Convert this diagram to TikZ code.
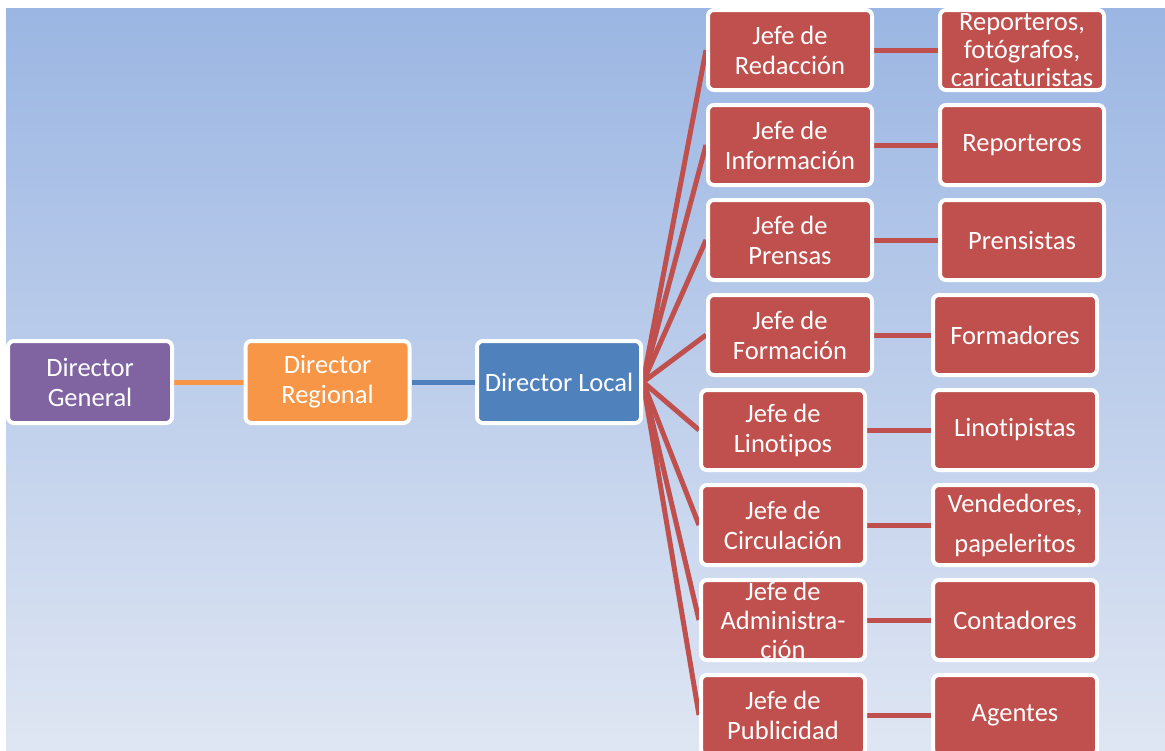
\documentclass[tikz,border=0pt]{standalone}
\usepackage{fontspec}
\setmainfont{Carlito}[Ligatures=NoCommon]
\pgfdeclarelayer{bg}
\pgfdeclarelayer{edges}
\pgfsetlayers{bg,edges,main}
\definecolor{dirpurple}{HTML}{8064A2}
\definecolor{dirorange}{HTML}{F79646}
\definecolor{dirblue}{HTML}{4F81BD}
\definecolor{jefered}{HTML}{C0504D}
\definecolor{skytop}{RGB}{155,182,227}
\definecolor{skybottom}{RGB}{223,230,243}
\tikzset{
	box/.style={draw=white, line width=4pt, rounded corners=6pt, text=white, align=center,
		minimum width=164pt, minimum height=80pt, inner sep=0pt,
		font=\fontsize{26.5}{30}\selectfont},
	dirbox/.style={box, minimum height=82pt},
	redbox/.style={box, fill=jefered},
	link/.style={line width=5pt}
}
\begin{document}
\begin{tikzpicture}[x=1pt, y=-1pt]
	\useasboundingbox (0,0) rectangle (1165,750);
	\clip (0,0) rectangle (1165,750);
	\begin{pgfonlayer}{bg}
		\fill[top color=skytop, bottom color=skybottom] (6,8) rectangle (1165,750);
	\end{pgfonlayer}
	% directores
	\node [dirbox, fill=dirpurple] (gen) at (90,382) {Director\\General};
	\node [dirbox, fill=dirorange] (reg) at (327.5,382) {Director\\Regional};
	\node [dirbox, fill=dirblue] (loc) at (559,382) {Director Local};
	% jefes
	\node [redbox] (j1) at (790,50) {Jefe de\\Redacción};
	\node [redbox] (j2) at (790,145) {Jefe de\\Información};
	\node [redbox] (j3) at (790,240) {Jefe de\\Prensas};
	\node [redbox] (j4) at (790,335) {Jefe de\\Formación};
	\node [redbox] (j5) at (783,430) {Jefe de\\Linotipos};
	\node [redbox] (j6) at (783,525) {Jefe de\\Circulación};
	\node [redbox, font=\fontsize{26.5}{29}\selectfont] (j7) at (783,620) {Jefe de\\Administra-\\ción};
	\node [redbox] (j8) at (783,715) {Jefe de\\Publicidad};
	% personal
	\node [redbox, font=\fontsize{26.5}{28}\selectfont] (p1) at (1022,50) {Reporteros,\\fotógrafos,\\caricaturistas};
	\node [redbox] (p2) at (1022,145) {Reporteros};
	\node [redbox] (p3) at (1022,240) {Prensistas};
	\node [redbox] (p4) at (1015,335) {Formadores};
	\node [redbox] (p5) at (1015,430) {Linotipistas};
	\node [redbox] (p6) at (1015,525) {Vendedores,\\[10pt]papeleritos};
	\node [redbox] (p7) at (1015,620) {Contadores};
	\node [redbox] (p8) at (1015,715) {Agentes};
	% conectores
	\begin{pgfonlayer}{edges}
		\draw [link, dirorange] (gen.east) -- (reg.west);
		\draw [link, dirblue] (reg.east) -- (loc.west);
		\foreach \i in {1,...,8} {
			\draw [link, jefered] (loc.east) -- (j\i.west);
			\draw [link, jefered] (j\i.east) -- (p\i.west);
		}
	\end{pgfonlayer}
\end{tikzpicture}
\end{document}
